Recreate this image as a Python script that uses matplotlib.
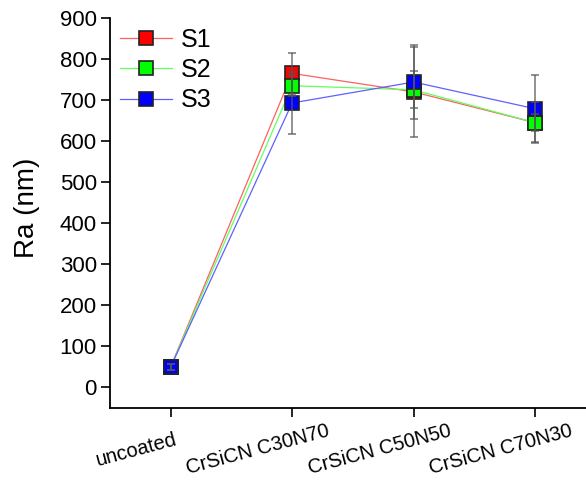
import matplotlib
matplotlib.use("Agg")
import matplotlib.pyplot as plt
from matplotlib.transforms import ScaledTranslation
import numpy as np

plt.rcParams['font.family'] = ['Liberation Sans', 'DejaVu Sans']

categories = ["uncoated", "CrSiCN C30N70", "CrSiCN C50N50", "CrSiCN C70N30"]
series = ["S1", "S2", "S3"]
s1 = [50, 765, 720, 645]
s2 = [50, 735, 725, 645]
s3 = [50, 693, 744, 679]
s1_err = [8, 50, 110, 50]
s2_err = [8, 25, 45, 20]
s3_err = [8, 75, 90, 82]
line_colors = ["#ff6060", "#60ff60", "#6060ff"]
marker_colors = ["#ff0000", "#00ff00", "#0000ff"]

fig = plt.figure(figsize=(5.86, 4.82), dpi=100)
ax = fig.add_axes([0.1877, 0.1535, 0.8123, 0.8092])

x = np.arange(len(categories))
for vals, errs, name, lc, mc in zip([s1, s2, s3], [s1_err, s2_err, s3_err], series, line_colors, marker_colors):
    ax.plot(x, vals, '-', color=lc, lw=0.9, marker='s', markersize=9.6,
            markerfacecolor=mc, markeredgecolor='#222222', markeredgewidth=1.2,
            label=name, zorder=3)
    ax.errorbar(x, vals, yerr=errs, fmt='none', ecolor='#555555', elinewidth=1.2,
                capsize=3, capthick=1.2, alpha=0.75, zorder=4)

ax.set_xlim(-0.5, 3.42)
ax.set_ylim(-50, 900)
ax.set_yticks(np.arange(0, 901, 100))
ax.set_xticks(x)
ax.set_xticklabels(categories, rotation=15, fontsize=14.5, ha='center', va='center',
                   rotation_mode='anchor')
ax.tick_params(axis='y', labelsize=16, direction='out', length=6.5, width=1.2, pad=2.9)
ax.tick_params(axis='x', direction='out', length=6.5, width=1.2, pad=23.5)
offset = ScaledTranslation(-34 / 100, 0, fig.dpi_scale_trans)
for lab in ax.get_xticklabels():
    lab.set_transform(lab.get_transform() + offset)
for sp in ['top', 'right']:
    ax.spines[sp].set_visible(False)
for sp in ['left', 'bottom']:
    ax.spines[sp].set_linewidth(1.3)
ax.set_ylabel("Ra (nm)", fontsize=20)
ax.yaxis.set_label_coords(-0.147, 0.513)

leg = ax.legend(loc='upper left', frameon=False, fontsize=18, handlelength=2.1,
                borderaxespad=0.0, borderpad=0.4, labelspacing=0.25, handletextpad=0.35,
                bbox_to_anchor=(0.0, 1.0))

fig.savefig("out.png", dpi=100)
